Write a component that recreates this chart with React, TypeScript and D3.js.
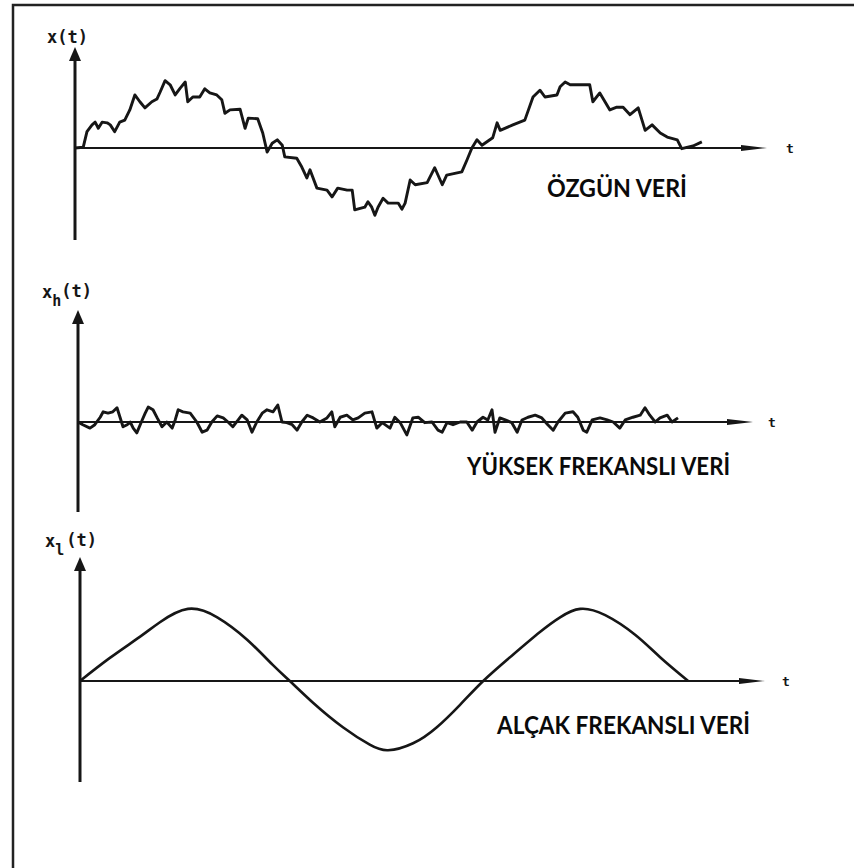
import React from 'react';
import * as d3 from 'd3';

// Original signal x(t): time (arbitrary units) and amplitude
const originalT = [0, 0.13, 0.19, 0.27, 0.32, 0.37, 0.43, 0.51, 0.56, 0.63, 0.71, 0.79, 0.87, 0.95, 1.03, 1.11, 1.22, 1.3, 1.35, 1.43, 1.51, 1.59, 1.67, 1.75, 1.79, 1.87, 1.98, 2.06, 2.14, 2.25, 2.33, 2.38, 2.46, 2.62, 2.7, 2.75, 2.9, 2.98, 3.05, 3.13, 3.21, 3.29, 3.33, 3.52, 3.6, 3.68, 3.73, 3.84, 4.0, 4.08, 4.17, 4.32, 4.4, 4.44, 4.6, 4.65, 4.71, 4.76, 4.81, 4.89, 4.97, 5.13, 5.19, 5.24, 5.32, 5.4, 5.59, 5.71, 5.83, 5.9, 6.14, 6.22, 6.3, 6.38, 6.46, 6.63, 6.7, 6.75, 6.95, 7.14, 7.27, 7.38, 7.46, 7.65, 7.7, 7.78, 7.86, 8.17, 8.22, 8.33, 8.49, 8.6, 8.7, 8.81, 8.94, 9.05, 9.16, 9.29, 9.4, 9.56, 9.63, 9.81, 9.95];
const originalX = [0, 0.01, 0.24, 0.34, 0.38, 0.29, 0.38, 0.37, 0.34, 0.24, 0.38, 0.41, 0.56, 0.78, 0.68, 0.59, 0.68, 0.72, 0.82, 0.99, 0.93, 0.78, 0.88, 0.97, 0.68, 0.75, 0.75, 0.87, 0.81, 0.78, 0.71, 0.51, 0.56, 0.57, 0.29, 0.44, 0.43, 0.22, -0.06, 0.07, 0.12, 0.04, -0.13, -0.15, -0.28, -0.44, -0.32, -0.59, -0.62, -0.72, -0.59, -0.62, -0.62, -0.91, -0.87, -0.79, -0.87, -0.99, -0.87, -0.74, -0.81, -0.81, -0.9, -0.81, -0.47, -0.54, -0.51, -0.29, -0.54, -0.4, -0.35, -0.18, 0, 0.12, 0.04, 0.15, 0.37, 0.26, 0.34, 0.41, 0.75, 0.85, 0.75, 0.78, 0.9, 0.97, 0.93, 0.93, 0.68, 0.81, 0.56, 0.6, 0.6, 0.49, 0.59, 0.26, 0.34, 0.22, 0.16, 0.12, -0.01, 0.03, 0.09];

// High-frequency component x_h(t)
const highT = [0, 0.08, 0.2, 0.28, 0.37, 0.42, 0.5, 0.58, 0.65, 0.7, 0.75, 0.82, 0.87, 0.92, 0.98, 1.07, 1.12, 1.17, 1.25, 1.32, 1.4, 1.48, 1.57, 1.62, 1.67, 1.75, 1.87, 1.98, 2.07, 2.15, 2.23, 2.32, 2.42, 2.5, 2.58, 2.67, 2.73, 2.82, 2.9, 2.98, 3.07, 3.15, 3.25, 3.33, 3.4, 3.48, 3.57, 3.65, 3.73, 3.82, 3.92, 4.03, 4.15, 4.23, 4.28, 4.37, 4.48, 4.58, 4.67, 4.78, 4.9, 4.98, 5.07, 5.2, 5.28, 5.37, 5.48, 5.58, 5.67, 5.78, 5.9, 6.0, 6.07, 6.15, 6.25, 6.37, 6.48, 6.57, 6.65, 6.75, 6.83, 6.9, 6.95, 7.03, 7.12, 7.23, 7.32, 7.4, 7.5, 7.62, 7.73, 7.83, 7.92, 8.0, 8.12, 8.25, 8.33, 8.42, 8.48, 8.57, 8.7, 8.82, 8.92, 9.03, 9.12, 9.25, 9.37, 9.45, 9.53, 9.62, 9.7, 9.82, 9.9, 10.0];
const highX = [0, -0.04, -0.09, -0.04, 0.07, 0.15, 0.13, 0.15, 0.21, 0.07, -0.07, -0.04, 0, -0.09, -0.16, 0.03, 0.13, 0.22, 0.18, 0.06, -0.07, 0, -0.09, 0.03, 0.18, 0.15, 0.13, 0, -0.15, -0.12, 0, 0.09, 0.06, 0, -0.07, 0.03, 0.1, 0.03, -0.15, 0, 0.13, 0.18, 0.15, 0.25, 0, -0.01, -0.04, -0.12, 0, 0.1, 0.06, 0, 0.06, 0.15, -0.07, 0.07, 0.1, 0.03, 0.06, 0.13, 0.15, -0.09, -0.01, -0.09, 0.07, -0.01, -0.19, 0.06, 0.07, -0.01, 0, -0.12, -0.15, -0.01, -0.04, 0, 0, -0.12, 0, 0.07, 0.03, 0.18, -0.15, 0.06, 0.03, -0.01, -0.15, 0.03, 0.07, 0.1, 0.06, -0.04, -0.12, 0, 0.13, 0.15, 0.07, -0.12, -0.15, 0.03, 0.06, 0.03, 0, -0.09, 0.03, 0.07, 0.1, 0.21, 0.1, 0, 0.06, 0.1, 0, 0.06];

// Low-frequency component x_l(t)
const lowT = [0, 0.49, 0.98, 1.31, 1.77, 2.25, 2.74, 3.16, 3.44, 3.82, 4.31, 4.75, 5.05, 5.46, 5.85, 6.23, 6.61, 7.05, 7.54, 7.87, 8.2, 8.61, 9.1, 9.51, 9.97];
const lowX = [0, 0.33, 0.63, 0.84, 1.03, 0.91, 0.59, 0.23, 0, -0.31, -0.66, -0.91, -0.99, -0.89, -0.66, -0.34, 0, 0.34, 0.7, 0.91, 1.03, 0.94, 0.66, 0.34, 0];

const panelTitles = ['ÖZGÜN VERİ', 'YÜKSEK FREKANSLI VERİ', 'ALÇAK FREKANSLI VERİ'];
const componentSubscripts = ['', 'h', 'l'];
const timeSymbol = 't';

type Panel = {
  t: number[];
  v: number[];
  title: string;
  sub: string;
  smooth: boolean;
  ox: number; // axis origin x
  oy: number; // baseline y
  endX: number; // x at t = 10
  unitPx: number; // pixels per amplitude unit
  axisTop: number;
  axisBottom: number;
  arrowEnd: number;
  tLabelX: number;
  titleX: number;
  titleY: number;
  titleW: number;
  symX: number;
  symY: number;
};

const panels: Panel[] = [
  { t: originalT, v: originalX, title: panelTitles[0], sub: componentSubscripts[0], smooth: false,
    ox: 75, oy: 148, endX: 705, unitPx: 68, axisTop: 47, axisBottom: 240, arrowEnd: 767, tLabelX: 790,
    titleX: 547, titleY: 197, titleW: 140, symX: 47, symY: 43 },
  { t: highT, v: highX, title: panelTitles[1], sub: componentSubscripts[1], smooth: false,
    ox: 78, oy: 422, endX: 678, unitPx: 68, axisTop: 310, axisBottom: 512, arrowEnd: 753, tLabelX: 772,
    titleX: 467, titleY: 475, titleW: 263, symX: 42, symY: 298 },
  { t: lowT, v: lowX, title: panelTitles[2], sub: componentSubscripts[2], smooth: true,
    ox: 80, oy: 681, endX: 690, unitPx: 70, axisTop: 557, axisBottom: 782, arrowEnd: 765, tLabelX: 786,
    titleX: 497, titleY: 734, titleW: 253, symX: 45, symY: 547 },
];

const INK = '#161616';
const symFont = '"DejaVu Sans Mono", monospace';

function PanelView({ p }: { p: Panel }) {
  const x = d3.scaleLinear().domain([0, 10]).range([p.ox, p.endX]);
  const y = d3.scaleLinear().domain([-1, 1]).range([p.oy + p.unitPx, p.oy - p.unitPx]);
  const pts: [number, number][] = p.t.map((t, i) => [t, p.v[i]]);
  const line = d3
    .line<[number, number]>()
    .x((d) => x(d[0]))
    .y((d) => y(d[1]))
    .curve(p.smooth ? d3.curveNatural : d3.curveLinear);
  const yArrow = `M${p.ox},${p.axisTop} L${p.ox - 6},${p.axisTop + 14} L${p.ox + 6},${p.axisTop + 14} Z`;
  const xArrow = `M${p.arrowEnd},${p.oy} L${p.arrowEnd - 26},${p.oy - 3} L${p.arrowEnd - 26},${p.oy + 3} Z`;
  return (
    <g>
      {/* vertical axis with arrowhead */}
      <line x1={p.ox} y1={p.axisTop + 10} x2={p.ox} y2={p.axisBottom} stroke={INK} strokeWidth={3} />
      <path d={yArrow} fill={INK} />
      {/* time axis with arrowhead */}
      <line x1={p.ox} y1={p.oy} x2={p.arrowEnd - 20} y2={p.oy} stroke={INK} strokeWidth={2} />
      <path d={xArrow} fill={INK} />
      <text x={p.tLabelX} y={p.oy + 5} fontFamily={symFont} fontWeight="bold" fontSize={13} fill={INK} textAnchor="middle">
        {timeSymbol}
      </text>
      {/* signal */}
      <path
        d={line(pts) ?? ''}
        fill="none"
        stroke={INK}
        strokeWidth={p.smooth ? 2.6 : 2.9}
        strokeLinejoin="round"
      />
      {/* axis symbol */}
      <text x={p.symX} y={p.symY} fontFamily={symFont} fontWeight="bold" fontSize={17} fill={INK}>
        x
        {p.sub && (
          <tspan dy={8} fontSize={15}>
            {p.sub}
          </tspan>
        )}
        <tspan dy={p.sub ? -9 : 0} dx={p.sub === 'l' ? 2 : 0}>(t)</tspan>
      </text>
      {/* caption */}
      <text
        x={p.titleX}
        y={p.titleY}
        fontFamily="Lato, 'Open Sans', sans-serif"
        fontWeight={700}
        fontSize={24}
        fill="#0a0a0a"
        textLength={p.titleW}
        lengthAdjust="spacingAndGlyphs"
      >
        {p.title}
      </text>
    </g>
  );
}

export default function App() {
  return (
    <svg
      width={854}
      height={868}
      viewBox="0 0 854 868"
      style={{ position: 'absolute', left: 0, top: 0, background: '#fff' }}
    >
      <rect x={0} y={0} width={854} height={868} fill="#fff" />
      {/* outer frame, running off the right and bottom edges */}
      <rect x={13} y={5} width={900} height={900} fill="none" stroke="#222" strokeWidth={2.5} />
      {panels.map((p, i) => (
        <PanelView key={i} p={p} />
      ))}
    </svg>
  );
}
